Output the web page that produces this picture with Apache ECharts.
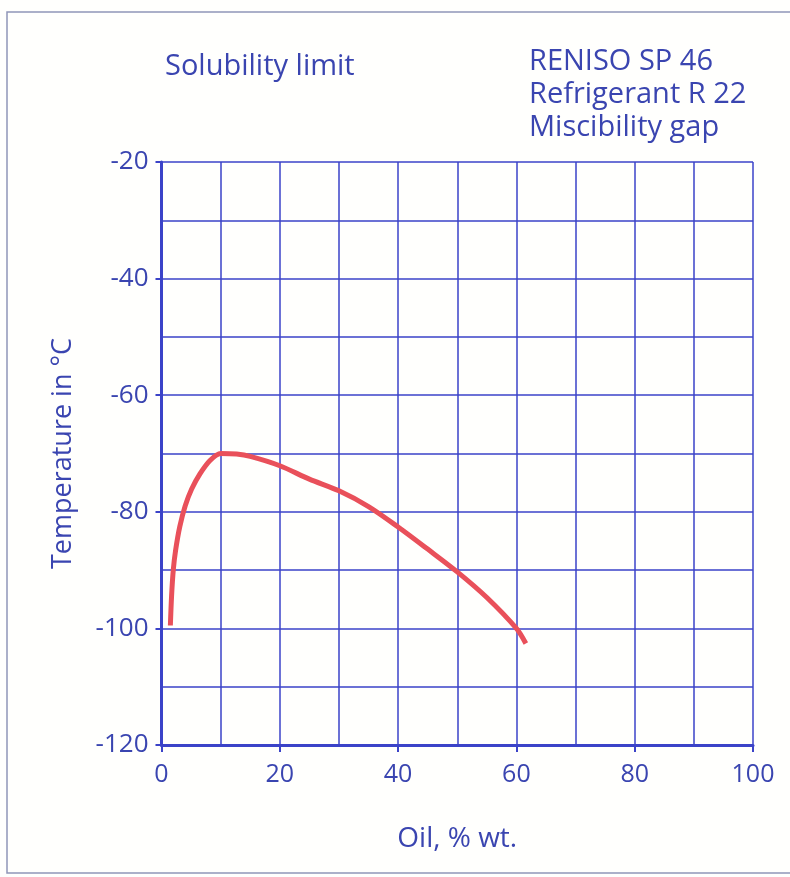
<!DOCTYPE html>
<html>
<head>
<meta charset="utf-8">
<title>Solubility limit</title>
<script src="https://cdn.jsdelivr.net/npm/echarts@6/dist/echarts.min.js"></script>
<style>
  html, body { margin: 0; padding: 0; background: #fffffd; }
  #chart { width: 790px; height: 877px; }
</style>
</head>
<body>
<div id="chart"></div>
<script>
  // values: oil % wt. and temperature in °C
  var oilPct = [1.5, 1.7, 2.0, 2.4, 3.1, 4.0, 5.1, 6.5, 8.2, 10, 12.7, 15, 20, 25, 30, 35, 40, 45, 50, 55, 60, 61.6]
  var tempC = [-99.5, -94.5, -89.9, -86.5, -82.5, -79.0, -76.1, -73.5, -71.2, -70, -70.1, -70.5, -72.1, -74.4, -76.4, -79.1, -82.6, -86.4, -90.3, -94.7, -100, -102.6]
  var titleLeft = 'Solubility limit'
  var titleRight = ['RENISO SP 46', 'Refrigerant R 22', 'Miscibility gap']

  var blue = '#3b43c8'
  var textBlue = '#3a45b0'
  var font = 'Open Sans'

  var curve = []
  for (var i = 0; i < oilPct.length; i++) {
    curve.push([oilPct[i], tempC[i]])
  }

  var chart = echarts.init(document.getElementById('chart'))

  chart.setOption({
    backgroundColor: '#fffffd',
    animation: false,
    title: [
      {
        text: titleLeft,
        left: 160,
        top: 47,
        textStyle: { fontFamily: font, fontWeight: 'normal', fontSize: 29, color: textBlue },
      },
      {
        text: titleRight.join('\n'),
        left: 524,
        top: 40,
        textStyle: { fontFamily: font, fontWeight: 'normal', fontSize: 29, lineHeight: 33, color: textBlue },
      },
    ],
    graphic: [
      {
        type: 'rect',
        shape: { x: 7, y: 12, width: 800, height: 861 },
        style: { fill: 'none', stroke: '#9096b8', lineWidth: 1.5 },
        silent: true,
      },
    ],
    grid: {
      left: 161.5,
      right: 37,
      top: 162,
      bottom: 132,
    },
    xAxis: {
      type: 'value',
      min: 0,
      max: 100,
      interval: 20,
      name: 'Oil, % wt.',
      nameLocation: 'middle',
      nameGap: 80,
      nameTextStyle: { fontFamily: font, fontSize: 28, color: textBlue },
      axisLine: { show: true, lineStyle: { color: blue, width: 3 } },
      axisTick: { show: true, length: 7, lineStyle: { color: blue, width: 2 } },
      axisLabel: { margin: 17, fontFamily: font, fontSize: 25, color: textBlue },
      splitLine: { show: true, lineStyle: { color: blue, width: 1.5 } },
      minorTick: { show: false, splitNumber: 2 },
      minorSplitLine: { show: true, lineStyle: { color: blue, width: 1.5 } },
    },
    yAxis: {
      type: 'value',
      min: -120,
      max: -20,
      interval: 20,
      name: 'Temperature in °C',
      nameLocation: 'middle',
      nameRotate: 90,
      nameGap: 85,
      nameTextStyle: { fontFamily: font, fontSize: 27, color: textBlue },
      axisLine: { show: true, lineStyle: { color: blue, width: 3 } },
      axisTick: { show: true, length: 6, lineStyle: { color: blue, width: 2 } },
      axisLabel: { margin: 13, fontFamily: font, fontSize: 26, color: textBlue },
      splitLine: { show: true, lineStyle: { color: blue, width: 1.5 } },
      minorTick: { show: false, splitNumber: 2 },
      minorSplitLine: { show: true, lineStyle: { color: blue, width: 1.5 } },
    },
    series: [
      {
        type: 'line',
        data: curve,
        smooth: 0.3,
        showSymbol: false,
        lineStyle: { color: '#e9505a', width: 5 },
      },
    ],
  })
</script>
</body>
</html>
